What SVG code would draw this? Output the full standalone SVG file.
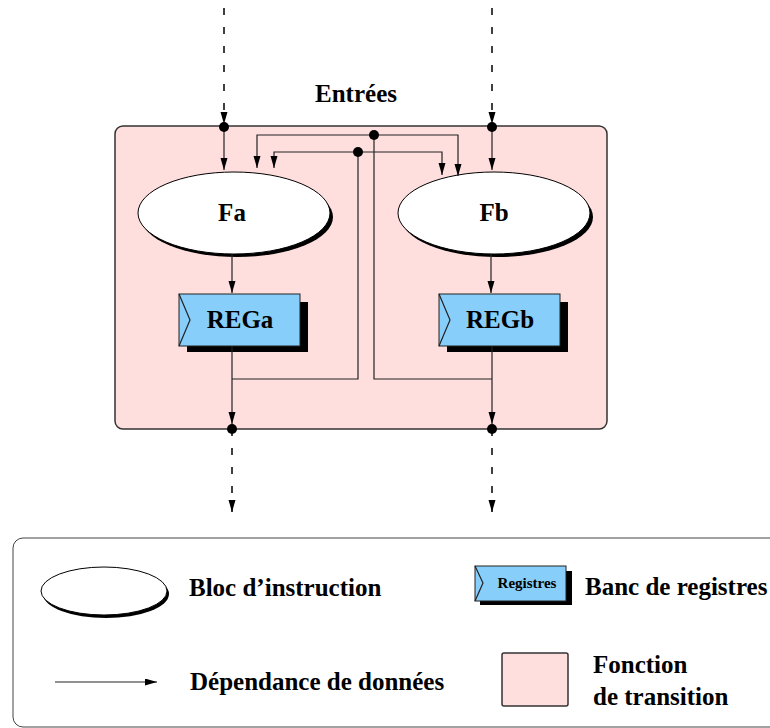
<svg xmlns="http://www.w3.org/2000/svg" width="770" height="728" viewBox="0 0 770 728">
<defs>
<marker id="arr" markerUnits="userSpaceOnUse" markerWidth="13" markerHeight="8" refX="12" refY="3.5" orient="auto">
<path d="M0,0 L12,3.5 L0,7 z" fill="#000"/>
</marker>
<style>
.lbl{font-family:"Liberation Serif","Times New Roman",serif;font-weight:bold;font-size:25px;fill:#000}
.ln{fill:none;stroke:#222;stroke-width:1.2}
.dash{fill:none;stroke:#000;stroke-width:1.5;stroke-dasharray:7 12}
.dot{fill:#000}
.reg{fill:#87cefa;stroke:#222;stroke-width:1}
.shadow{fill:#000}
.ell{fill:#fff;stroke:#000;stroke-width:1}
.box{fill:#ffdede;stroke:#333;stroke-width:1.5}
</style>
</defs>
<rect width="770" height="728" fill="#fff"/>

<g id="transition">
<rect class="box" x="115" y="126" width="492" height="303" rx="8"/>
</g>
<text class="lbl" x="356" y="102" text-anchor="middle">Entrées</text>

<g id="Fa">
<ellipse class="shadow" cx="237" cy="217" rx="96" ry="40"/>
<ellipse class="ell" cx="234" cy="213" rx="96" ry="41"/>
<text class="lbl" x="232" y="221" text-anchor="middle">Fa</text>
</g>
<g id="Fb">
<ellipse class="shadow" cx="497" cy="217" rx="96" ry="40"/>
<ellipse class="ell" cx="494" cy="213" rx="96" ry="41"/>
<text class="lbl" x="494" y="221" text-anchor="middle">Fb</text>
</g>
<g id="REGa">
<rect class="shadow" x="187" y="302" width="121" height="50"/>
<rect class="reg" x="179" y="294" width="121" height="52"/>
<path class="ln" d="M179,294 L190,320 L179,346"/>
<text class="lbl" x="240" y="328" text-anchor="middle">REGa</text>
</g>
<g id="REGb">
<rect class="shadow" x="447" y="302" width="121" height="50"/>
<rect class="reg" x="439" y="294" width="121" height="52"/>
<path class="ln" d="M439,294 L450,320 L439,346"/>
<text class="lbl" x="500" y="328" text-anchor="middle">REGb</text>
</g>

<g id="connectors">
<line class="dash" x1="224" y1="8" x2="224" y2="124" marker-end="url(#arr)"/>
<line class="dash" x1="492" y1="8" x2="492" y2="124" marker-end="url(#arr)"/>
<line class="ln" x1="224" y1="127" x2="224" y2="170" marker-end="url(#arr)"/>
<line class="ln" x1="492" y1="127" x2="492" y2="170" marker-end="url(#arr)"/>
<path class="ln" d="M374,135 H257 V168" marker-end="url(#arr)"/>
<path class="ln" d="M374,135 H458 V176" marker-end="url(#arr)"/>
<path class="ln" d="M358,152 H274 V168" marker-end="url(#arr)"/>
<path class="ln" d="M358,152 H442 V175" marker-end="url(#arr)"/>
<path class="ln" d="M374,135 V379 H492"/>
<path class="ln" d="M358,152 V379 H232"/>
<line class="ln" x1="232" y1="254" x2="232" y2="293" marker-end="url(#arr)"/>
<line class="ln" x1="491" y1="254" x2="491" y2="293" marker-end="url(#arr)"/>
<line class="ln" x1="232" y1="346" x2="232" y2="424" marker-end="url(#arr)"/>
<line class="ln" x1="492" y1="346" x2="492" y2="424" marker-end="url(#arr)"/>
<line class="dash" x1="232" y1="429" x2="232" y2="512" marker-end="url(#arr)"/>
<line class="dash" x1="492" y1="429" x2="492" y2="512" marker-end="url(#arr)"/>
<circle class="dot" cx="224" cy="127" r="5"/>
<circle class="dot" cx="492" cy="127" r="5"/>
<circle class="dot" cx="374" cy="135" r="5"/>
<circle class="dot" cx="358" cy="152" r="5"/>
<circle class="dot" cx="232" cy="429" r="5"/>
<circle class="dot" cx="492" cy="429" r="5"/>
</g>

<g id="legend">
<rect x="13" y="538" width="780" height="189" rx="10" fill="none" stroke="#444" stroke-width="1"/>
<ellipse class="shadow" cx="106" cy="594" rx="63" ry="24"/>
<ellipse class="ell" cx="104" cy="591" rx="63" ry="24"/>
<text class="lbl" x="189" y="596">Bloc d’instruction</text>
<rect class="shadow" x="480" y="571" width="92" height="34"/>
<rect class="reg" x="475" y="566" width="91" height="35"/>
<path class="ln" d="M475,566 L483,583 L475,601"/>
<text x="527" y="588" text-anchor="middle" style="font-family:'Liberation Serif','Times New Roman',serif;font-weight:bold;font-size:15px">Registres</text>
<text class="lbl" x="585" y="595">Banc de registres</text>
<line class="ln" x1="55" y1="682" x2="157" y2="682" marker-end="url(#arr)"/>
<text class="lbl" x="190" y="690">Dépendance de données</text>
<rect class="box" x="502" y="653" width="66" height="53" rx="2"/>
<text class="lbl" x="593" y="673">Fonction</text>
<text class="lbl" x="593" y="705">de transition</text>
</g>
</svg>
